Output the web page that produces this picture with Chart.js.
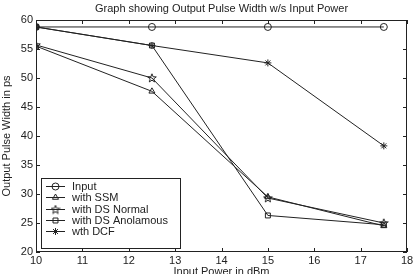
<!DOCTYPE html>
<html>
<head>
<meta charset="utf-8">
<script src="https://cdn.jsdelivr.net/npm/chart.js@4/dist/chart.umd.min.js"></script>
<style>
  html, body { margin: 0; padding: 0; background: #fff; }
  #wrap { width: 418px; height: 274px; }
</style>
</head>
<body>
<div id="wrap"><canvas id="grafico" width="418" height="274"></canvas></div>
<script>
// datos
const potencia = [10, 12.5, 15, 17.5];
const input = [58.8, 58.8, 58.8, 58.8];
const conSSM = [55.5, 47.7, 29.5, 24.5];
const dsNormal = [55.7, 50.0, 29.3, 25.0];
const dsAnomalo = [58.8, 55.6, 26.3, 24.7];
const conDCF = [58.8, 55.6, 52.6, 38.3];
const nombres = ['Input', 'with SSM', 'with DS Normal', 'with DS Anolamous', 'wth DCF'];
const xTicks = [10, 11, 12, 13, 14, 15, 16, 17, 18];
const yTicks = [20, 25, 30, 35, 40, 45, 50, 55, 60];

const FUENTE = 'Liberation Sans, Arial, sans-serif';
const NEGRO = '#222';
const VACIO = 'rgba(0,0,0,0)';

// estrella de 5 puntas para "with DS Normal"
function pentagrama() {
    const c = document.createElement('canvas');
    c.width = 10; c.height = 10;
    const g = c.getContext('2d');
    g.strokeStyle = NEGRO;
    g.lineWidth = 1;
    g.beginPath();
    for (let i = 0; i < 10; i++) {
        const r = i % 2 === 0 ? 4.5 : 1.9;
        const a = -Math.PI / 2 + i * Math.PI / 5;
        const px = 5 + r * Math.cos(a), py = 5.3 + r * Math.sin(a);
        if (i === 0) g.moveTo(px, py); else g.lineTo(px, py);
    }
    g.closePath();
    g.stroke();
    return c;
}
const estrella = pentagrama();

const estilos = ['circle', 'triangle', estrella, 'rect', 'star'];
const series = [input, conSSM, dsNormal, dsAnomalo, conDCF];

const datasets = series.map((valores, i) => ({
    label: nombres[i],
    data: valores.map((v, j) => ({ x: potencia[j], y: v })),
    borderColor: NEGRO,
    borderWidth: 1,
    backgroundColor: VACIO,
    pointStyle: estilos[i],
    pointRadius: 3.5,
    pointBorderColor: NEGRO,
    pointBorderWidth: 1,
    pointBackgroundColor: VACIO,
    tension: 0,
    fill: false
}));

// marco, marcas, titulos y leyenda estilo MATLAB
const marcoPlugin = {
    id: 'marco',
    afterDraw(chart) {
        const ctx = chart.ctx;
        const a = chart.chartArea;
        const sx = chart.scales.x, sy = chart.scales.y;
        ctx.save();
        ctx.strokeStyle = NEGRO;
        ctx.lineWidth = 1;
        ctx.strokeRect(a.left + 0.5, a.top + 0.5, a.right - a.left - 1, a.bottom - a.top - 1);
        ctx.beginPath();
        xTicks.forEach(t => {
            const px = Math.round(sx.getPixelForValue(t)) + 0.5;
            ctx.moveTo(px, a.bottom); ctx.lineTo(px, a.bottom - 4);
            ctx.moveTo(px, a.top); ctx.lineTo(px, a.top + 4);
        });
        yTicks.forEach(t => {
            const py = Math.round(sy.getPixelForValue(t)) + 0.5;
            ctx.moveTo(a.left, py); ctx.lineTo(a.left + 4, py);
            ctx.moveTo(a.right, py); ctx.lineTo(a.right - 4, py);
        });
        ctx.stroke();

        // titulos
        ctx.fillStyle = NEGRO;
        ctx.font = '11px ' + FUENTE;
        ctx.textAlign = 'center';
        ctx.textBaseline = 'middle';
        ctx.fillText('Graph showing Output Pulse Width w/s Input Power', (a.left + a.right) / 2, 9);
        ctx.fillText('Input Power in dBm', (a.left + a.right) / 2, 272);
        ctx.save();
        ctx.translate(7, (a.top + a.bottom) / 2);
        ctx.rotate(-Math.PI / 2);
        ctx.fillText('Output Pulse Width in ps', 0, 0);
        ctx.restore();

        // leyenda
        const lx = 41, ly = 178, lw = 139, lh = 70;
        ctx.fillStyle = '#fff';
        ctx.fillRect(lx, ly, lw, lh);
        ctx.strokeRect(lx + 0.5, ly + 0.5, lw, lh);
        ctx.font = '11px ' + FUENTE;
        ctx.textAlign = 'left';
        chart.data.datasets.forEach((ds, i) => {
            const y = Math.round(ly + 8 + i * 11.3) + 0.5;
            ctx.beginPath();
            ctx.moveTo(lx + 5, y);
            ctx.lineTo(lx + 24, y);
            ctx.stroke();
            ctx.fillStyle = VACIO;
            Chart.helpers.drawPoint(ctx, {
                pointStyle: ds.pointStyle, radius: 3.5, rotation: 0, borderWidth: 1
            }, lx + 14.5, y);
            ctx.fillStyle = NEGRO;
            ctx.fillText(ds.label, lx + 31, y);
        });
        ctx.restore();
    }
};

new Chart(document.getElementById('grafico').getContext('2d'), {
    type: 'line',
    data: { datasets: datasets },
    options: {
        responsive: false,
        animation: false,
        devicePixelRatio: 1,
        layout: { padding: { left: 0, right: 11, top: 20, bottom: 0 } },
        plugins: {
            legend: { display: false },
            title: { display: false },
            tooltip: { enabled: false }
        },
        scales: {
            x: {
                type: 'linear',
                min: 10,
                max: 18,
                afterBuildTicks: s => { s.ticks = xTicks.map(v => ({ value: v })); },
                afterFit: s => { s.height = 22; },
                grid: { display: false, drawTicks: false },
                border: { display: false },
                ticks: { color: NEGRO, font: { family: FUENTE, size: 11 }, padding: 2, maxRotation: 0 }
            },
            y: {
                min: 20,
                max: 60,
                afterBuildTicks: s => { s.ticks = yTicks.map(v => ({ value: v })); },
                afterFit: s => { s.width = 36; },
                grid: { display: false, drawTicks: false },
                border: { display: false },
                ticks: { color: NEGRO, font: { family: FUENTE, size: 11 }, padding: 3 }
            }
        }
    },
    plugins: [marcoPlugin]
});
</script>
</body>
</html>
